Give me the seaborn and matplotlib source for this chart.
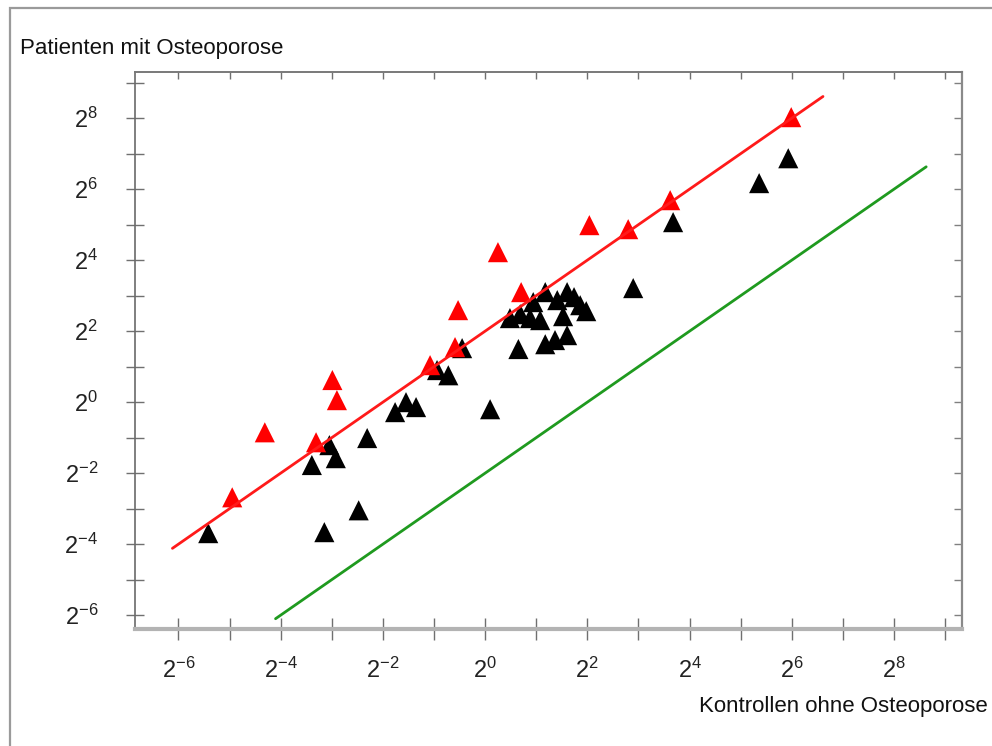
import numpy as np
import pandas as pd
import matplotlib
matplotlib.use("Agg")
import matplotlib.pyplot as plt
from matplotlib.ticker import FixedLocator, FuncFormatter, NullFormatter
from matplotlib.patches import Rectangle
import seaborn as sns

# ---------------- data ----------------
# Kontrollen ohne Osteoporose (x) vs. Patienten mit Osteoporose (y)
black_x = [0.0234, 0.0954, 0.121, 0.132, 0.113, 0.180, 0.202, 0.295, 0.342, 0.392,
           0.521, 0.607, 0.732, 1.07, 1.40, 1.61, 1.84, 1.92, 2.26, 2.11,
           2.66, 3.04, 3.34, 3.63, 3.94, 2.88, 1.57, 2.26, 2.58, 3.04,
           7.45, 12.8, 41.1, 61.0]
black_y = [0.0775, 0.293, 0.432, 0.335, 0.079, 0.121, 0.496, 0.823, 1.00, 0.908,
           1.87, 1.69, 2.87, 0.871, 5.16, 5.57, 5.16, 7.05, 8.57, 4.96,
           7.33, 8.57, 7.77, 6.64, 5.91, 5.36, 2.82, 3.10, 3.36, 3.70,
           9.27, 33.6, 72.0, 117.0]

red_x = [0.0324, 0.0504, 0.101, 0.126, 0.134, 0.474, 0.665, 0.693, 1.19, 1.63,
         4.11, 6.96, 12.3, 63.5]
red_y = [0.156, 0.555, 0.457, 1.54, 1.04, 2.06, 2.93, 6.03, 18.7, 8.57,
         31.7, 29.3, 51.6, 261.0]

# reference lines y = factor * x
red_line_x = [0.0144, 97.7]
red_factor = 4.0
green_line_x = [0.0583, 396.0]
green_factor = 0.25

tick_exponents_major = list(range(-6, 9, 2))
tick_exponents_minor = list(range(-5, 10, 2))

x_label = "Kontrollen ohne Osteoporose"
y_label = "Patienten mit Osteoporose"

# ---------------- figure ----------------
sns.set_theme(style="white")
plt.rcParams["font.family"] = ["Liberation Sans", "DejaVu Sans"]

W, H = 992, 746
fig = plt.figure(figsize=(W / 100, H / 100), dpi=100)
fig.patch.set_facecolor("white")

ax_l, ax_r, ax_t, ax_b = 135, 962, 72, 629
ax = fig.add_axes([ax_l / W, 1 - ax_b / H, (ax_r - ax_l) / W, (ax_b - ax_t) / H])
ax.set_xscale("log", base=2)
ax.set_yscale("log", base=2)

df = pd.DataFrame({
    "kontrollen": black_x + red_x,
    "patienten": black_y + red_y,
    "gruppe": ["schwarz"] * len(black_x) + ["rot"] * len(red_x),
})
sns.scatterplot(data=df, x="kontrollen", y="patienten", hue="gruppe",
                palette={"schwarz": "#000000", "rot": "#ff0000"},
                marker="^", s=210, linewidth=0, legend=False, ax=ax, zorder=3)

rx = np.array(red_line_x)
gx = np.array(green_line_x)
sns.lineplot(x=rx, y=rx * red_factor, color="#ff1a1a", linewidth=2.0, ax=ax, zorder=4)
sns.lineplot(x=gx, y=gx * green_factor, color="#1f9a1f", linewidth=2.0, ax=ax, zorder=4)

ax.set_xlim(2 ** -6.85, 2 ** 9.33)
ax.set_ylim(2 ** -6.39, 2 ** 9.30)
ax.set_xlabel("")
ax.set_ylabel("")

fmt = FuncFormatter(lambda v, p: r"$\mathregular{2^{%d}}$" % int(round(np.log2(v))))
for axis in (ax.xaxis, ax.yaxis):
    axis.set_major_locator(FixedLocator([2.0 ** k for k in tick_exponents_major]))
    axis.set_minor_locator(FixedLocator([2.0 ** k for k in tick_exponents_minor]))
    axis.set_major_formatter(fmt)
    axis.set_minor_formatter(NullFormatter())

ax.tick_params(axis="x", which="both", direction="inout", length=16, width=1.0,
               color="#707070", labelsize=17, pad=13, labelcolor="#222222",
               bottom=True, top=False)
ax.tick_params(axis="y", which="both", direction="inout", length=13, width=1.0,
               color="#707070", labelsize=17, pad=20, labelcolor="#222222",
               left=True, right=False)

# top and right ticks pointing inward
sec_x = ax.secondary_xaxis("top")
sec_x.xaxis.set_major_locator(FixedLocator([2.0 ** k for k in range(-6, 10)]))
sec_x.xaxis.set_minor_locator(FixedLocator([]))
sec_x.xaxis.set_major_formatter(NullFormatter())
sec_x.tick_params(direction="in", length=5, width=1.0, color="#707070")
sec_x.spines["top"].set_color("#7a7a7a")
sec_x.spines["top"].set_linewidth(1.2)

sec_y = ax.secondary_yaxis("right")
sec_y.yaxis.set_major_locator(FixedLocator([2.0 ** k for k in range(-6, 10)]))
sec_y.yaxis.set_minor_locator(FixedLocator([]))
sec_y.yaxis.set_major_formatter(NullFormatter())
sec_y.tick_params(direction="in", length=6, width=1.0, color="#808080")
sec_y.spines["right"].set_color("#8a8a8a")
sec_y.spines["right"].set_linewidth(1.6)

ax.spines["left"].set_color("#6a6a6a")
ax.spines["left"].set_linewidth(1.2)
ax.spines["bottom"].set_color("#b3b3b3")
ax.spines["bottom"].set_linewidth(3.0)
ax.spines["top"].set_color("#7a7a7a")
ax.spines["right"].set_color("#8a8a8a")

# axis titles
fig.text(20 / W, 1 - 54 / H, y_label, fontsize=16, ha="left", va="baseline", color="#111111")
fig.text(988 / W, 1 - 712 / H, x_label, fontsize=16, ha="right", va="baseline", color="#111111")

# outer frame (top and left edges visible)
fig.patches.append(Rectangle((10 / W, -0.2), 1.5, 1.2 - 8 / H, transform=fig.transFigure,
                             fill=False, edgecolor="#9a9a9a", linewidth=1.6))

fig.savefig("out.png", dpi=100, facecolor="white")
